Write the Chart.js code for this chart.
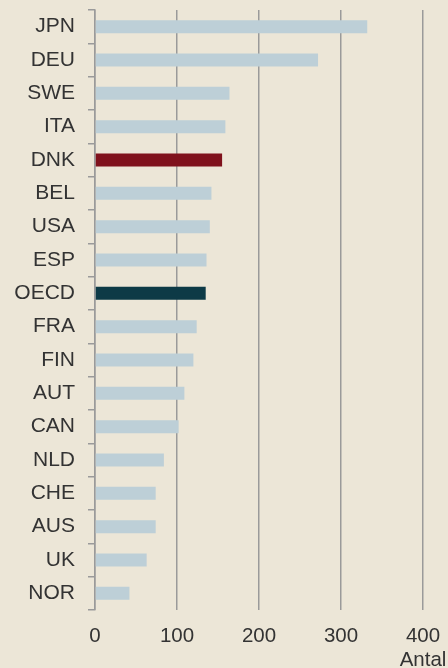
<!DOCTYPE html>
<html>
<head>
<meta charset="utf-8">
<script src="https://cdn.jsdelivr.net/npm/chart.js@4"></script>
<style>
  html, body { margin: 0; padding: 0; background: #ECE6D7; }
  #wrap { width: 448px; height: 668px; }
</style>
</head>
<body>
<div id="wrap"><canvas id="chart" width="448" height="668"></canvas></div>
<script>
const countries = ["JPN", "DEU", "SWE", "ITA", "DNK", "BEL", "USA", "ESP", "OECD",
    "FRA", "FIN", "AUT", "CAN", "NLD", "CHE", "AUS", "UK", "NOR"];
const antal = [332, 272, 164, 159, 155, 142, 140, 136, 135,
    124, 120, 109, 102, 84, 74, 74, 63, 42];
const xTicks = [0, 100, 200, 300, 400];
const axisTitle = "Antal";

const gray = "#9a9a9a";
const textColor = "#333333";
const fontFamily = "'Liberation Sans', Arial, sans-serif";

const barColors = countries.map(function (c) {
    if (c === "DNK") return "#7F111C";
    if (c === "OECD") return "#0D3A46";
    return "#BDCFD7";
});

// draws the "Antal" label under the last tick
const titlePlugin = {
    id: "antalTitle",
    afterDraw: function (chart) {
        const ctx = chart.ctx;
        const x = chart.scales.x.getPixelForValue(xTicks[xTicks.length - 1]);
        ctx.save();
        ctx.font = "20.5px " + fontFamily;
        ctx.fillStyle = textColor;
        ctx.textAlign = "center";
        ctx.textBaseline = "alphabetic";
        ctx.fillText(axisTitle, x, 666);
        ctx.restore();
    }
};

new Chart(document.getElementById("chart").getContext("2d"), {
    type: "bar",
    data: {
        labels: countries,
        datasets: [{
            data: antal,
            backgroundColor: barColors,
            borderWidth: 0,
            barPercentage: 0.39,
            categoryPercentage: 1
        }]
    },
    options: {
        indexAxis: "y",
        responsive: false,
        animation: false,
        layout: { padding: { top: 10, right: 25, left: 0, bottom: 0 } },
        plugins: {
            legend: { display: false },
            tooltip: { enabled: false }
        },
        scales: {
            x: {
                min: 0,
                max: 400,
                afterFit: function (scale) {
                    scale.height = 58;
                    scale.paddingLeft = 0;
                    scale.paddingRight = 0;
                },
                afterBuildTicks: function (scale) {
                    scale.ticks = xTicks.map(function (v) { return { value: v }; });
                },
                grid: { color: gray, lineWidth: 1.5, drawTicks: false },
                border: { display: false },
                ticks: {
                    padding: 14,
                    color: textColor,
                    font: { family: fontFamily, size: 20.5 }
                }
            },
            y: {
                afterFit: function (scale) {
                    scale.width = 95;
                    scale.paddingTop = 0;
                    scale.paddingBottom = 0;
                },
                grid: {
                    offset: true,
                    drawOnChartArea: false,
                    drawTicks: true,
                    tickLength: 7,
                    color: gray,
                    lineWidth: 1.5
                },
                border: { display: true, color: gray, width: 1.5 },
                ticks: {
                    padding: 13,
                    color: textColor,
                    font: { family: fontFamily, size: 21 }
                }
            }
        }
    },
    plugins: [titlePlugin]
});
</script>
</body>
</html>
